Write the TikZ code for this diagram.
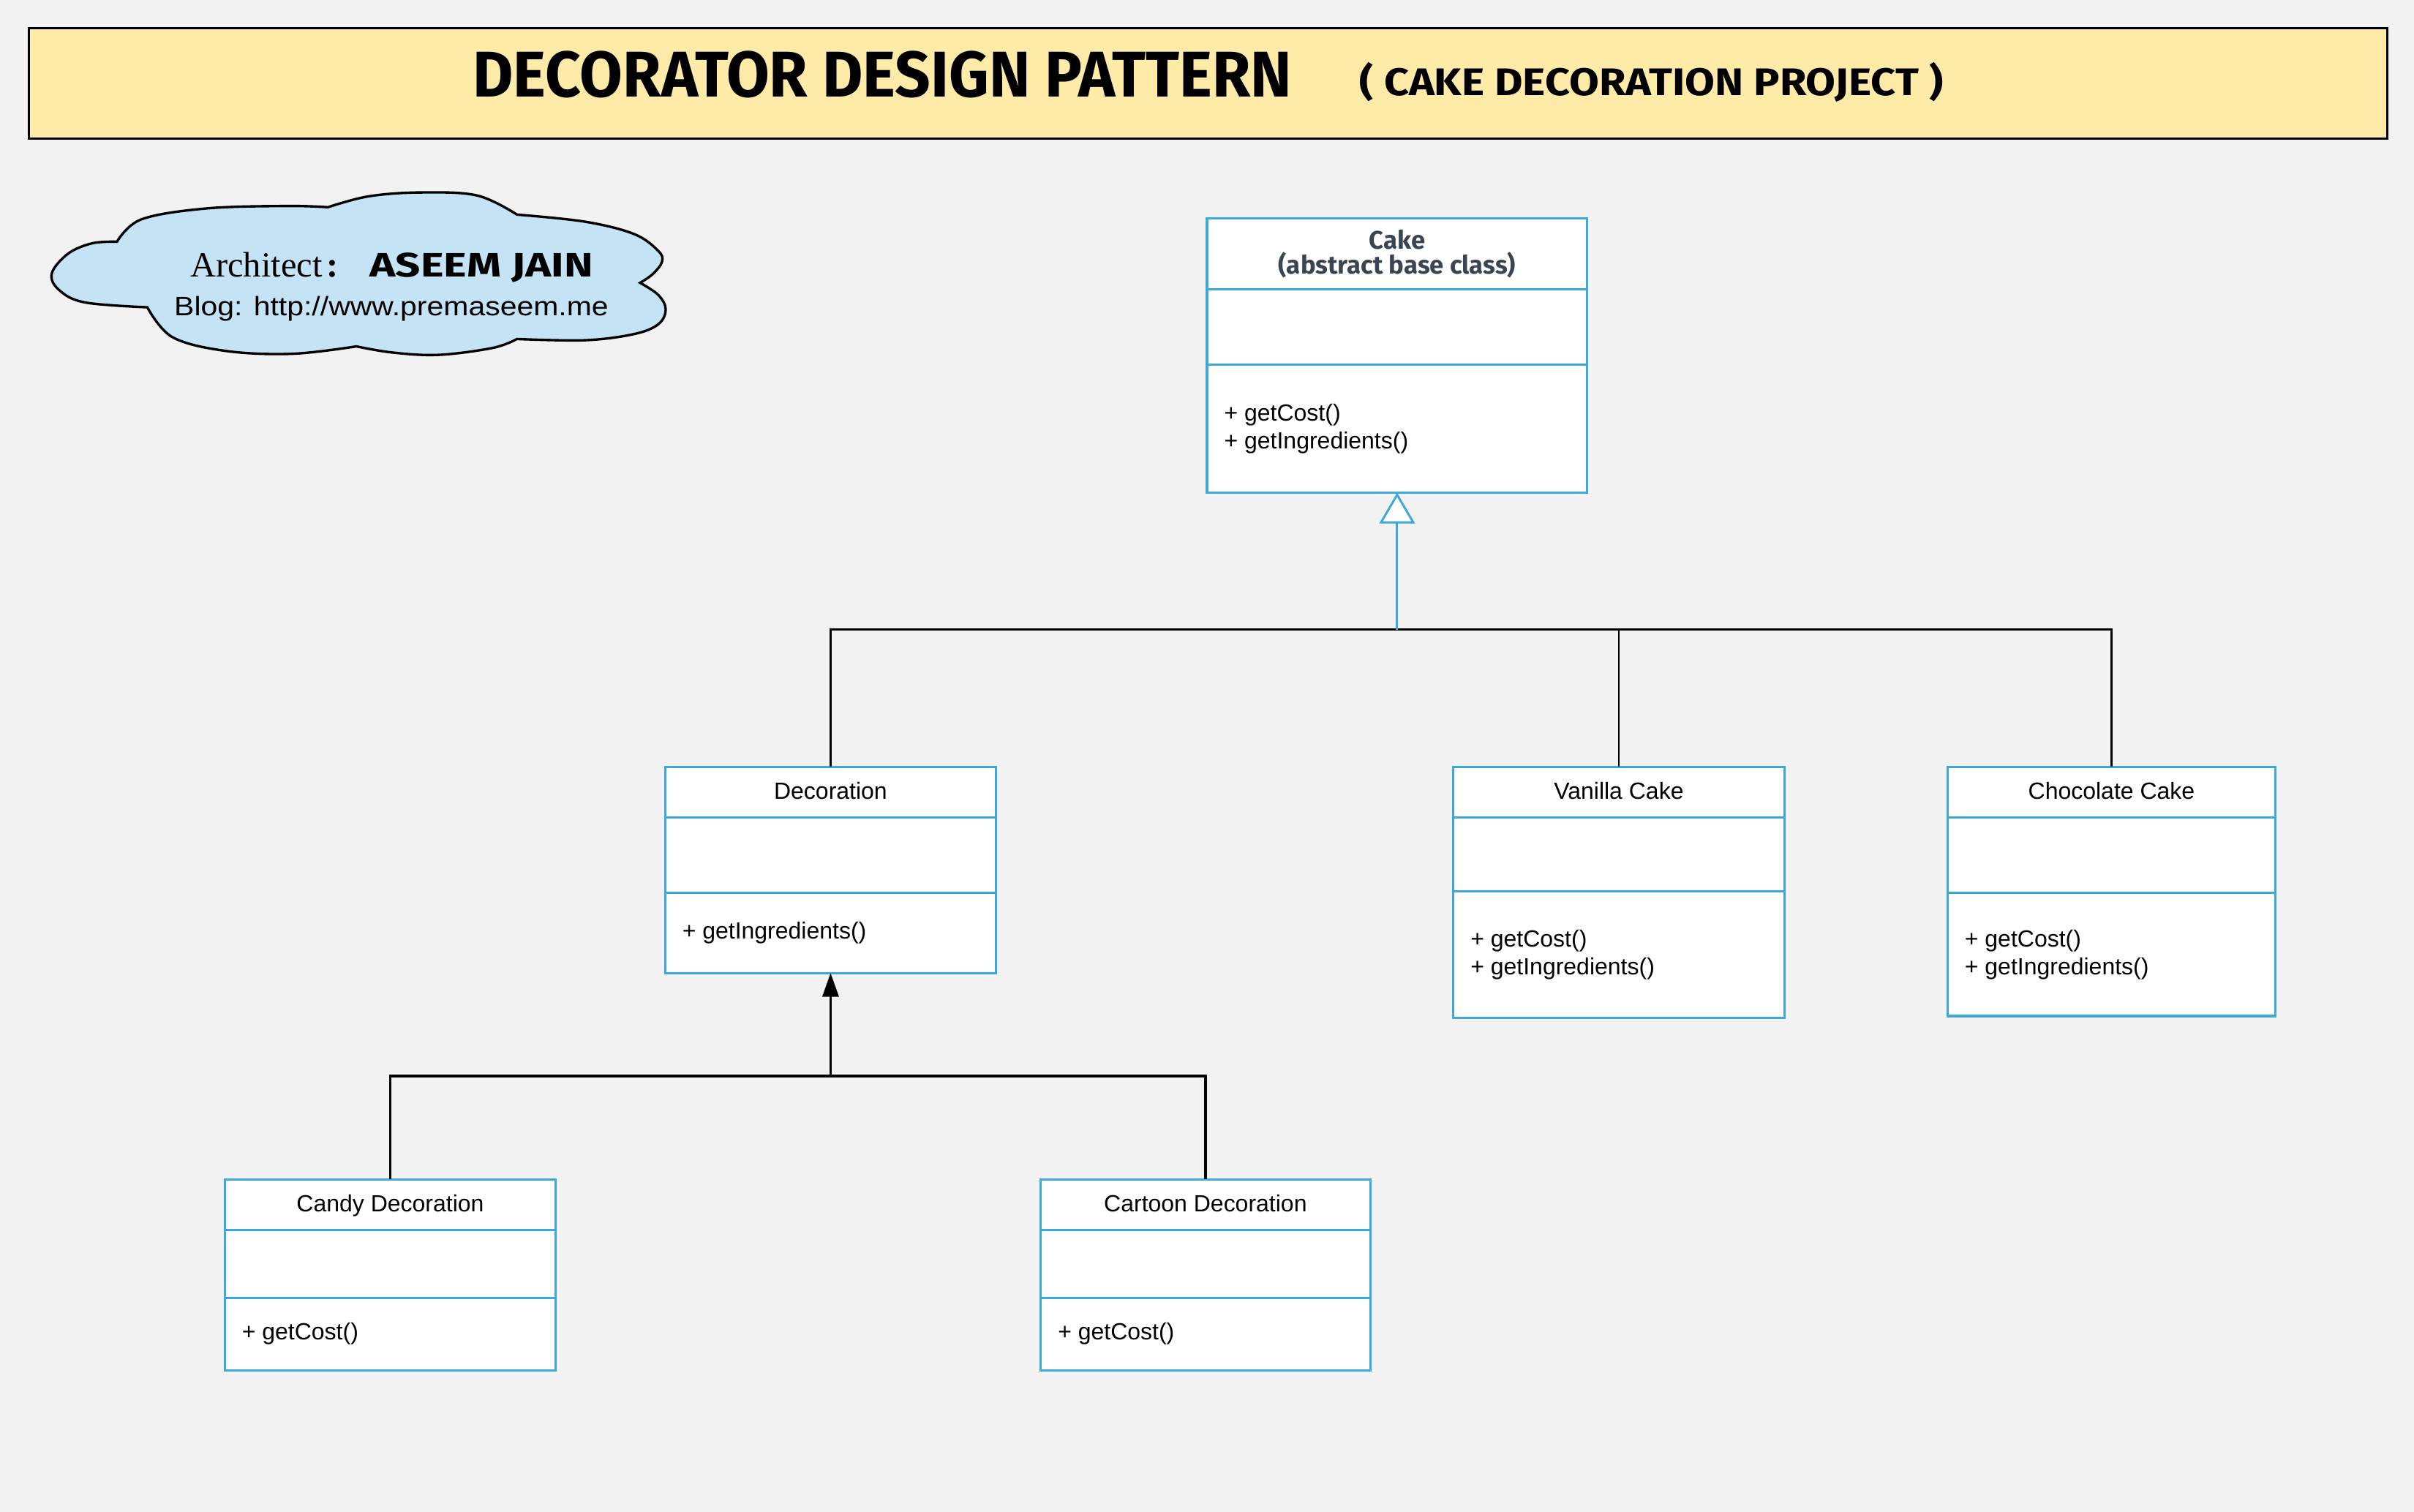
\documentclass[tikz,border=0pt]{standalone}
\usepackage{fontspec}
\setmainfont{Liberation Sans}
\newfontfamily\serifface{Liberation Serif}
\newfontfamily\firaface{Fira Sans}
\usetikzlibrary{arrows.meta}
\definecolor{bgc}{HTML}{F2F2F2}
\definecolor{titlefill}{HTML}{FFEBA8}
\definecolor{cloudfill}{HTML}{C4E4F6}
\definecolor{umlblue}{HTML}{3DA8DB}
\definecolor{slate}{HTML}{3B4452}
\tikzset{
  umlbox/.style={draw=umlblue, fill=white, line width=1.5pt, inner sep=0pt, outer sep=0pt},
  umlsep/.style={draw=umlblue, line width=1.5pt},
  umltext/.style={font=\fontsize{15.2}{18}\selectfont, inner sep=0pt},
  conn/.style={draw=black, line width=1.3pt},
  conn2/.style={draw=black, line width=1.7pt},
  cloudstyle/.style={draw=black, fill=cloudfill, line width=1.6pt},
  plain/.style={inner sep=0pt, anchor=base west}
}
% #1 name, #2 x1, #3 y1, #4 x2, #5 y2, #6 sep1, #7 sep2, #8 title, #9 operations
\newcommand{\umlclass}[9]{%
  \node[umlbox, anchor=north west, minimum width={#4-#2}, minimum height={#5-#3}] (#1) at (#2,#3) {};
  \draw[umlsep] (#2,#6) -- (#4,#6);
  \draw[umlsep] (#2,#7) -- (#4,#7);
  \node[umltext, anchor=base] (#1-name) at ({(#2+#4)/2},{(#3+#6)/2+4.5}) {#8};
  \node[umltext, anchor=west, align=left] (#1-ops) at ({#2+11},{(#7+#5)/2}) {#9};
}
\begin{document}
\begin{tikzpicture}[x=1pt, y=-1pt]
  \fill[bgc] (0,0) rectangle (1568,982.1);
  \useasboundingbox (0,0) rectangle (1568,982.1);

  % title banner
  \node[draw=black, fill=titlefill, line width=1.4pt, minimum width=1532pt, minimum height=72pt,
        anchor=north west, inner sep=0pt] (titlebox) at (18,17.4) {};
  \node[plain] (title) at (307,63)
    {\resizebox{532pt}{\height}{\firaface\bfseries\fontsize{42}{42}\selectfont DECORATOR DESIGN PATTERN}};
  \node[plain] (subtitle) at (883,62)
    {\resizebox{379pt}{\height}{\firaface\bfseries\fontsize{25}{25}\selectfont ( CAKE DECORATION PROJECT )}};

  % cloud
  \draw[cloudstyle]
    plot[smooth, tension=0.6] coordinates {(76,157) (91.8,142.5) (134,135.4) (186.7,133.8) (213,134.6)}
    -- plot[smooth, tension=0.6] coordinates {(213,134.6) (239.6,127.5) (273.7,125) (310,127) (335.8,139.4)}
    -- plot[smooth, tension=0.6] coordinates {(335.8,139.4) (380,144) (411.8,152) (427.6,163) (430,170) (424,178) (415.8,183.7)}
    -- plot[smooth, tension=0.6] coordinates {(415.8,183.7) (427.6,191.6) (432.4,201) (427.6,210.6) (411.8,217) (380,221) (335.8,220.2)}
    -- plot[smooth, tension=0.6] coordinates {(335.8,220.2) (320,226) (285,230.5) (255,229) (231.5,225)}
    -- plot[smooth, tension=0.6] coordinates {(231.5,225) (190,229.8) (147,228) (112,219) (95.7,199.6)}
    -- plot[smooth, tension=0.6] coordinates {(95.7,199.6) (54.9,196.4) (38,188) (33.7,177.4) (44.3,164.7) (60,158) (76,157)}
    -- cycle;
  \node[plain] (architect) at (123.5,180)
    {\serifface\fontsize{23}{23}\selectfont Architect\hspace{3pt}\textbf{:}};
  \node[plain] (author) at (240,180)
    {\resizebox{145pt}{\height}{\firaface\bfseries\fontsize{22}{22}\selectfont ASEEM JAIN}};
  \node[plain] (blog) at (113,205)
    {\resizebox{282pt}{\height}{\fontsize{17.3}{17.3}\selectfont Blog: http://www.premaseem.me}};

  % classes
  \umlclass{cake}{784}{142}{1031}{320}{188}{237}{}{+ getCost()\\+ getIngredients()}
  \node[umltext, align=center, text=slate, font=\firaface\bfseries\fontsize{16.5}{16}\selectfont]
    (cake-title) at (907.5,165) {Cake\\(abstract base class)};
  \umlclass{deco}{432}{498}{647}{632}{531}{580}{Decoration}{+ getIngredients()}
  \umlclass{vanilla}{944}{498}{1159}{661}{531}{579}{Vanilla Cake}{+ getCost()\\+ getIngredients()}
  \umlclass{choc}{1265}{498}{1478}{660}{531}{580}{Chocolate Cake}{+ getCost()\\+ getIngredients()}
  \umlclass{candy}{146}{766}{361}{890}{799}{843}{Candy Decoration}{+ getCost()}
  \umlclass{cartoon}{676}{766}{890}{890}{799}{843}{Cartoon Decoration}{+ getCost()}

  % generalisation to Cake
  \coordinate (j1) at (907.5,409);
  \draw[conn] (deco.north) |- (j1) -| (choc.north);
  \draw[conn] (vanilla.north) -- (vanilla.north |- j1);
  \draw[umlblue, line width=1.4pt,
        -{Triangle[open, length=20pt, width=23pt, fill=white, line width=1.4pt]}] (j1) -- (cake.south);

  % decorations to Decoration
  \coordinate (j2) at (539.5,699);
  \draw[conn2] (candy.north) |- (j2) -| (cartoon.north);
  \draw[conn2, -{Triangle[length=15.5pt, width=10.5pt]}] (j2) -- (deco.south);
\end{tikzpicture}
\end{document}
